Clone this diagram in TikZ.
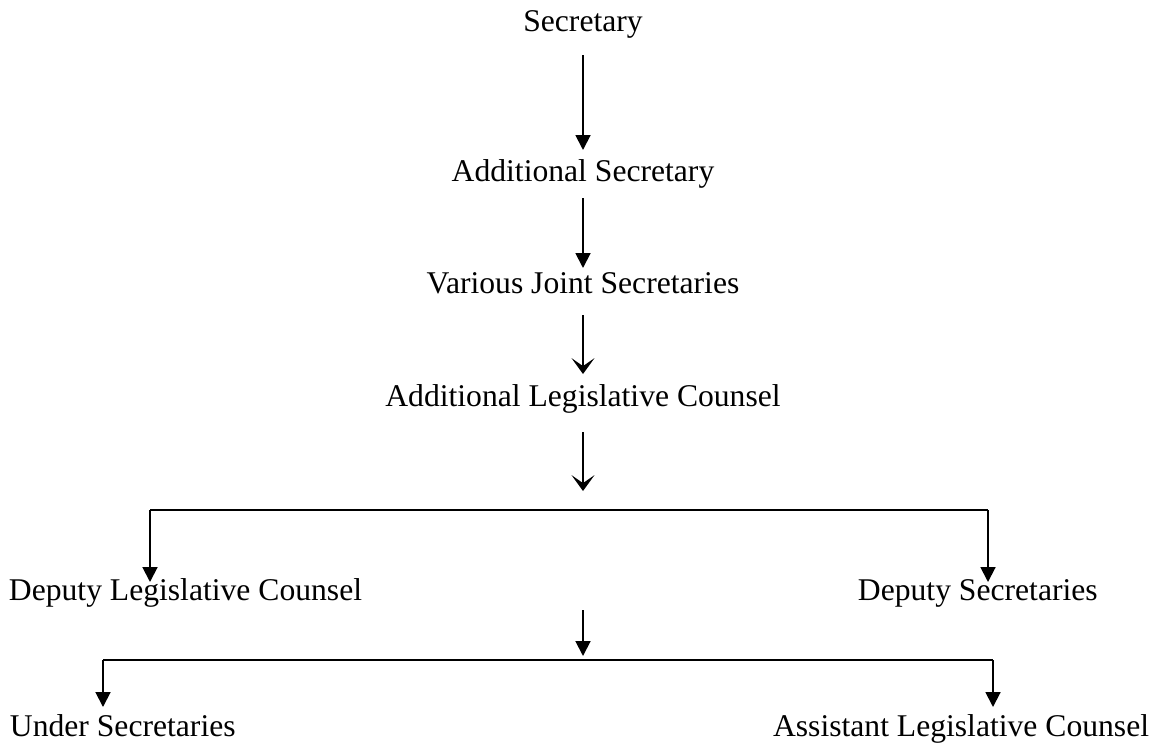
\documentclass[tikz,border=0pt]{standalone}
\usepackage{fontspec}
\setmainfont{Liberation Serif}
\usetikzlibrary{arrows.meta, calc}

\newlength\px
\setlength\px{0.02cm}

\begin{document}
\begin{tikzpicture}[x=0.02cm, y=-0.02cm, line width=1.1pt,
	lbl/.style={inner sep=0, font=\fontsize{18}{20}\selectfont},
	tri/.style={-{Triangle[length=8.5pt, width=8.5pt]}},
	barb/.style={-{Stealth[length=9pt, width=13pt, inset=4.5pt]}}]
	\useasboundingbox (0,0) rectangle (1159,744);

	% ranks, top to bottom
	\node[lbl, anchor=base] (sec) at (583,31) {Secretary};
	\node[lbl, anchor=base] (addsec) at (583,181) {Additional Secretary};
	\node[lbl, anchor=base] (jointsec) at (583,293) {Various Joint Secretaries};
	\node[lbl, anchor=base] (addlc) at (583,406) {Additional Legislative Counsel};
	\node[lbl, anchor=base west] (deplc) at (8,600) {Deputy Legislative Counsel};
	\node[lbl, anchor=base west] (depsec) at (857,600) {Deputy Secretaries};
	\node[lbl, anchor=base west] (undersec) at (9,736) {Under Secretaries};
	\node[lbl, anchor=base east] (asstlc) at (1150,736) {Assistant Legislative Counsel};

	% branch points
	\coordinate (split1) at (583,510);
	\coordinate (split2) at (583,660);
	\coordinate (l1) at (150,510);
	\coordinate (r1) at (988,510);
	\coordinate (l2) at (103,660);
	\coordinate (r2) at (993,660);

	\draw[tri] ($(sec.base)+(0,24)$) -- ($(addsec.base)+(0,-31)$);
	\draw[tri] ($(addsec.base)+(0,17)$) -- ($(jointsec.base)+(0,-25)$);
	\draw[barb] ($(jointsec.base)+(0,22)$) -- ($(addlc.base)+(0,-32)$);
	\draw[barb, shorten >=19\px] ($(addlc.base)+(0,26)$) -- (split1);

	\draw (l1) -- (r1);
	\draw[tri] (l1) -- ($(l1 |- deplc.base)+(0,-18)$);
	\draw[tri] (r1) -- ($(r1 |- depsec.base)+(0,-18)$);

	\draw[tri, shorten >=4\px] ($(split2 |- deplc.base)+(0,10)$) -- (split2);

	\draw (l2) -- (r2);
	\draw[tri] (l2) -- ($(l2 |- undersec.base)+(0,-29)$);
	\draw[tri] (r2) -- ($(r2 |- asstlc.base)+(0,-29)$);
\end{tikzpicture}
\end{document}
